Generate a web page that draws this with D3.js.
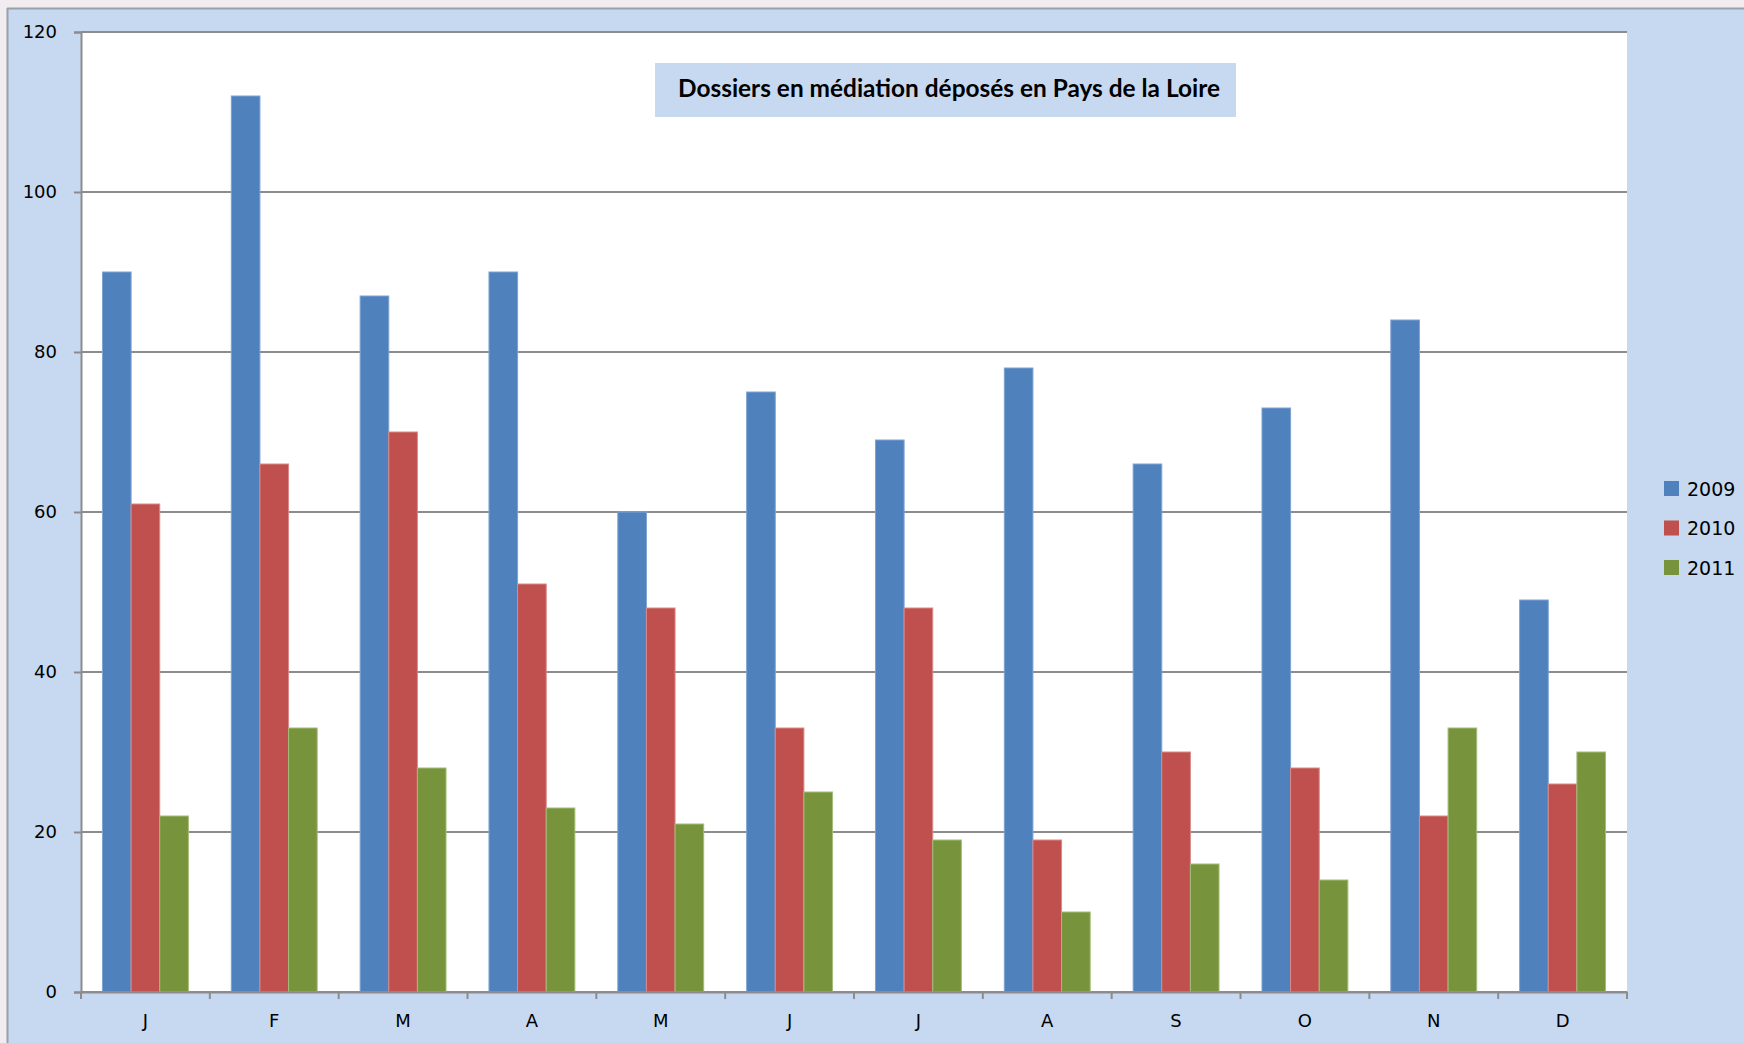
<!DOCTYPE html>
<html>
<head>
<meta charset="utf-8">
<script src="https://cdn.jsdelivr.net/npm/d3@7"></script>
<style>
  html, body { margin: 0; padding: 0; background: #f0ecf0; overflow: hidden; }
  svg { display: block; }
</style>
</head>
<body>
<div id="chart"></div>
<script>
// data
var months = ["J", "F", "M", "A", "M", "J", "J", "A", "S", "O", "N", "D"];
var years = ["2009", "2010", "2011"];
var values2009 = [90, 112, 87, 90, 60, 75, 69, 78, 66, 73, 84, 49];
var values2010 = [61, 66, 70, 51, 48, 33, 48, 19, 30, 28, 22, 26];
var values2011 = [22, 33, 28, 23, 21, 25, 19, 10, 16, 14, 33, 30];
var yTicks = [0, 20, 40, 60, 80, 100, 120];
var colors = ["#4f81bd", "#c0504d", "#77933c"];
var edges = ["#7ea3d2", "#d98a88", "#a3bd78"];
var title = "Dossiers en médiation déposés en Pays de la Loire";

var width = 1744, height = 1043;
var plot = { left: 81, right: 1627, top: 32, bottom: 992 };

var svg = d3.select("#chart").append("svg").attr("width", width).attr("height", height);

// chart area
svg.append("rect").attr("x", 7).attr("y", 8).attr("width", width).attr("height", height)
    .attr("fill", "#c6d9f0");
svg.append("line").attr("x1", 7).attr("x2", width).attr("y1", 8.5).attr("y2", 8.5)
    .attr("stroke", "#9aa0a8").attr("stroke-width", 2);
svg.append("line").attr("x1", 7.5).attr("x2", 7.5).attr("y1", 8).attr("y2", height)
    .attr("stroke", "#9aa0a8").attr("stroke-width", 2);

// plot area
svg.append("rect").attr("x", plot.left).attr("y", plot.top)
    .attr("width", plot.right - plot.left).attr("height", plot.bottom - plot.top)
    .attr("fill", "#ffffff");

// scales
var x0 = d3.scaleBand().domain(d3.range(months.length)).range([plot.left, plot.right]).paddingInner(0);
var x1 = d3.scaleBand().domain(years).range([x0.bandwidth() / 6, x0.bandwidth() * 5 / 6]);
var y = d3.scaleLinear().domain([0, 120]).range([plot.bottom, plot.top]);

// gridlines
svg.append("g").selectAll("line").data(yTicks).enter().append("line")
    .attr("x1", plot.left).attr("x2", plot.right)
    .attr("y1", function (d) { return y(d); }).attr("y2", function (d) { return y(d); })
    .attr("stroke", "#8c8c8c").attr("stroke-width", 2);

// bars
var series = [values2009, values2010, values2011];
var group = svg.append("g").selectAll("g").data(months).enter().append("g")
    .attr("transform", function (d, i) { return "translate(" + x0(i) + ",0)"; });

group.selectAll("rect").data(function (d, i) {
    return years.map(function (yr, k) { return { year: yr, k: k, value: series[k][i] }; });
}).enter().append("rect")
    .attr("x", function (d) { return x1(d.year); })
    .attr("width", x1.bandwidth())
    .attr("y", function (d) { return y(d.value); })
    .attr("height", function (d) { return y(0) - y(d.value); })
    .attr("fill", function (d) { return colors[d.k]; })
    .attr("stroke", function (d) { return edges[d.k]; })
    .attr("stroke-width", 1);

// y axis
var yAxis = d3.axisLeft(y).tickValues(yTicks).tickSize(7).tickPadding(17);
var gy = svg.append("g").attr("transform", "translate(" + plot.left + ",0)").call(yAxis);
gy.select(".domain").attr("stroke", "#8c8c8c").attr("stroke-width", 2);
gy.selectAll(".tick line").attr("stroke", "#8c8c8c").attr("stroke-width", 2);
gy.selectAll("text").attr("font-family", "DejaVu Sans").attr("font-size", 18).attr("fill", "#000");

// x axis
var xLab = d3.scaleBand().domain(d3.range(months.length)).range([plot.left, plot.right]);
var xAxis = d3.axisBottom(xLab).tickSize(0).tickPadding(22).tickFormat(function (i) { return months[i]; });
var gx = svg.append("g").attr("transform", "translate(0," + plot.bottom + ")").call(xAxis);
gx.select(".domain").attr("stroke", "#8c8c8c").attr("stroke-width", 2);
gx.selectAll("text").attr("font-family", "DejaVu Sans").attr("font-size", 18).attr("fill", "#000");
gx.selectAll(".sep").data(d3.range(months.length + 1)).enter().append("line")
    .attr("class", "sep")
    .attr("x1", function (i) { return plot.left + i * xLab.step(); })
    .attr("x2", function (i) { return plot.left + i * xLab.step(); })
    .attr("y1", 0).attr("y2", 7)
    .attr("stroke", "#8c8c8c").attr("stroke-width", 2);

// title
svg.append("rect").attr("x", 655).attr("y", 63).attr("width", 581).attr("height", 54)
    .attr("fill", "#c6d9f0");
svg.append("text").attr("x", 678).attr("y", 97)
    .attr("font-family", "Lato").attr("font-weight", "bold").attr("font-size", 24)
    .attr("textLength", 542).attr("lengthAdjust", "spacingAndGlyphs")
    .attr("fill", "#000").text(title);

// legend
var legend = svg.append("g").selectAll("g").data(years).enter().append("g")
    .attr("transform", function (d, i) { return "translate(1664," + (481 + i * 39.5) + ")"; });
legend.append("rect").attr("width", 15).attr("height", 15)
    .attr("fill", function (d, i) { return colors[i]; });
legend.append("text").attr("x", 23).attr("y", 8).attr("dy", "0.36em")
    .attr("font-family", "DejaVu Sans").attr("font-size", 19).attr("fill", "#000")
    .text(function (d) { return d; });
</script>
</body>
</html>
